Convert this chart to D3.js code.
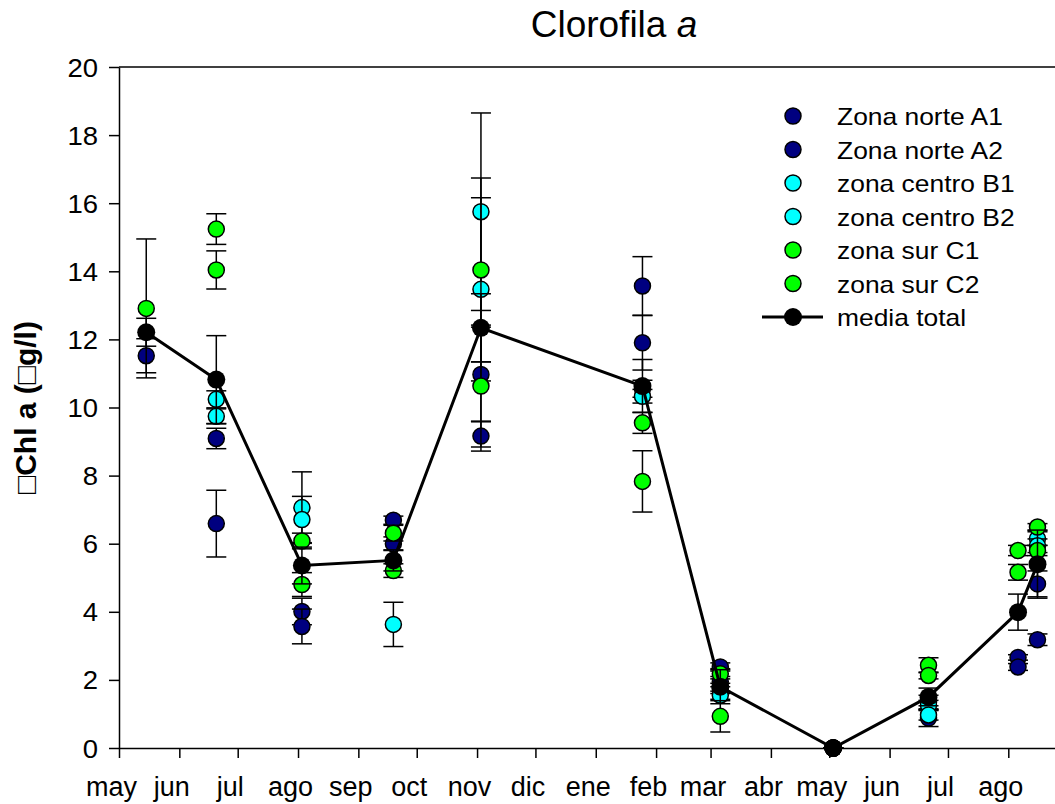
<!DOCTYPE html>
<html>
<head>
<meta charset="utf-8">
<script src="https://d3js.org/d3.v7.min.js"></script>
<style>
body, html {
    margin: 0;
    padding: 0;
    background: #fff;
    font-family: "Liberation Sans", Arial, sans-serif;
}
svg { display: block; }
.axis path, .axis line { stroke: #000; stroke-width: 1.5px; }
</style>
</head>
<body>
<div id="chart"></div>
<script>

// fechas de muestreo
var fechas = ["2006-05-15", "2006-06-20", "2006-08-03", "2006-09-19", "2006-11-03", "2007-01-25",
              "2007-03-06", "2007-05-03", "2007-06-21", "2007-08-06", "2007-08-16"];
var meses = ["ene", "feb", "mar", "abr", "may", "jun", "jul", "ago", "sep", "oct", "nov", "dic"];
var zonas = ["Zona norte A1", "Zona norte A2", "zona centro B1", "zona centro B2", "zona sur C1", "zona sur C2"];
var colores = ["#000080", "#000080", "#00ffff", "#00ffff", "#00ff00", "#00ff00"];
var yTicks = [0, 2, 4, 6, 8, 10, 12, 14, 16, 18, 20];

// Chl a por zona (null = sin dato) y su error
var A1 = [11.52, 9.09, 4.01, 6.69, 10.97, 13.57, 2.38, 0, 0.88, 2.66, 4.82];
var A1err = [0.5, 0.30, 0.39, 0.12, 1.39, 0.86, 0.12, 0, 0.25, 0.08, 0.38];
var A2 = [null, 6.59, 3.57, 6.0, 9.16, 11.90, 1.95, 0, 1.35, 2.38, 3.18];
var A2err = [0, 0.98, 0.51, 0.2, 0.44, 0.80, 0.15, 0, 0.2, 0.1, 0.17];
var B1 = [null, 10.24, 7.06, 3.63, 15.75, 10.55, 1.75, 0, 1.25, null, 6.15];
var B1err = [0, 0.25, 1.05, 0.65, 2.9, 0.25, 0.15, 0, 0.15, 0, 0.2];
var B2 = [null, 9.74, 6.71, null, 13.47, 10.33, 1.55, 0, 0.97, null, 5.94];
var B2err = [0, 0.22, 0.68, 0, 2.69, 0.2, 0.12, 0, 0.15, 0, 0.2];
var C1 = [12.91, 15.24, 6.08, 6.31, 14.04, 9.55, 2.18, 0, 2.43, 5.80, 6.49];
var C1err = [2.04, 0.45, 0.23, 0.23, 2.7, 0.31, 0.15, 0, 0.22, 0.15, 0.1];
var C2 = [null, 14.04, 4.80, 5.21, 10.63, 7.83, 0.93, 0, 2.13, 5.16, 5.80];
var C2err = [0, 0.56, 0.35, 0.2, 1.79, 0.9, 0.46, 0, 0.1, 0.23, 0.15];
var media = [12.21, 10.82, 5.36, 5.51, 12.34, 10.63, 1.80, 0, 1.50, 3.99, 5.40];
var mediaErr = [0.41, 1.29, 0.54, 0.31, 1.0, 0.78, 0.5, 0, 0.26, 0.53, 1.0];

var width = 1055, height = 804;
var mLeft = 119, mTop = 67, mBottom = 748, mRight = 1055;

var parse = d3.timeParse("%Y-%m-%d");
var dias = fechas.map(parse);

var x = d3.scaleTime()
    .domain([new Date(2006, 4, 1), new Date(2007, 7, 25)])
    .range([mLeft, mRight]);
var y = d3.scaleLinear()
    .domain([0, 20])
    .range([mBottom, mTop]);

var svg = d3.select("#chart").append("svg")
    .attr("width", width)
    .attr("height", height);

// estira el texto a lo ancho
function estirar(sel, k) {
  sel.each(function() {
    var w = this.getComputedTextLength();
    d3.select(this).attr("textLength", w * k).attr("lengthAdjust", "spacingAndGlyphs");
  });
}

// ejes
var gx = svg.append("g")
    .attr("class", "axis")
    .attr("transform", "translate(0," + mBottom + ")")
    .call(d3.axisBottom(x)
      .ticks(d3.timeMonth.every(1))
      .tickSize(10)
      .tickSizeOuter(0)
      .tickFormat(function(d) { return meses[d.getMonth()]; }));
gx.selectAll("text")
    .attr("y", 48).attr("dy", null).attr("dx", -8)
    .style("font-size", "27px")
    .style("font-family", "Liberation Sans, Arial, sans-serif")
    .attr("fill", "#000");

var gy = svg.append("g")
    .attr("class", "axis")
    .attr("transform", "translate(" + mLeft + ",0)")
    .call(d3.axisLeft(y).tickValues(yTicks).tickSize(10).tickSizeOuter(0));
gy.selectAll("text")
    .attr("x", -21).attr("dy", "0.36em")
    .style("font-size", "25px")
    .style("font-family", "Liberation Sans, Arial, sans-serif")
    .attr("fill", "#000");
estirar(gy.selectAll("text"), 1.1);

// borde superior
svg.append("line")
    .attr("x1", mLeft).attr("x2", mRight)
    .attr("y1", mTop).attr("y2", mTop)
    .attr("stroke", "#000").attr("stroke-width", 1.5);

// titulo
var tit = svg.append("text")
    .attr("x", 614).attr("y", 37)
    .attr("text-anchor", "middle")
    .style("font-size", "37px");
tit.append("tspan").text("Clorofila ");
tit.append("tspan").style("font-style", "italic").text("a");

// titulo eje y
svg.append("text")
    .attr("transform", "translate(36," + y(10) + ") rotate(-90)")
    .attr("text-anchor", "middle")
    .style("font-size", "30px")
    .style("font-weight", "bold")
    .text("\u25A1Chl a (\u25A1g/l)");

// series
var series = [
  {vals: A1, err: A1err}, {vals: A2, err: A2err},
  {vals: B1, err: B1err}, {vals: B2, err: B2err},
  {vals: C1, err: C1err}, {vals: C2, err: C2err}
];

function barras(g, vals, err) {
  var pts = vals.map(function(v, i) { return {d: dias[i], v: v, e: err[i]}; })
      .filter(function(p) { return p.v !== null; });
  var b = g.selectAll(".bar").data(pts).enter().append("g");
  b.append("line")
      .attr("x1", function(p) { return x(p.d); }).attr("x2", function(p) { return x(p.d); })
      .attr("y1", function(p) { return y(p.v - p.e); }).attr("y2", function(p) { return y(p.v + p.e); });
  b.append("line")
      .attr("x1", function(p) { return x(p.d) - 10; }).attr("x2", function(p) { return x(p.d) + 10; })
      .attr("y1", function(p) { return y(p.v + p.e); }).attr("y2", function(p) { return y(p.v + p.e); });
  b.append("line")
      .attr("x1", function(p) { return x(p.d) - 10; }).attr("x2", function(p) { return x(p.d) + 10; })
      .attr("y1", function(p) { return y(p.v - p.e); }).attr("y2", function(p) { return y(p.v - p.e); });
  b.selectAll("line").attr("stroke", "#000").attr("stroke-width", 1.5);
  return pts;
}

series.forEach(function(s, k) {
  var g = svg.append("g");
  var pts = barras(g, s.vals, s.err);
  g.selectAll("circle").data(pts).enter().append("circle")
      .attr("cx", function(p) { return x(p.d); })
      .attr("cy", function(p) { return y(p.v); })
      .attr("r", 8)
      .attr("fill", colores[k])
      .attr("stroke", "#000")
      .attr("stroke-width", 1.5);
});

// media total
var gm = svg.append("g");
var ptsM = barras(gm, media, mediaErr);
gm.append("path")
    .datum(ptsM)
    .attr("fill", "none")
    .attr("stroke", "#000")
    .attr("stroke-width", 3)
    .attr("d", d3.line().x(function(p) { return x(p.d); }).y(function(p) { return y(p.v); }));
gm.selectAll("circle").data(ptsM).enter().append("circle")
    .attr("cx", function(p) { return x(p.d); })
    .attr("cy", function(p) { return y(p.v); })
    .attr("r", 9)
    .attr("fill", "#000");

// leyenda
var leg = svg.append("g").attr("transform", "translate(793,116)");
var paso = 33.5;
zonas.forEach(function(z, k) {
  leg.append("circle")
      .attr("cx", 0).attr("cy", k * paso).attr("r", 8)
      .attr("fill", colores[k]).attr("stroke", "#000").attr("stroke-width", 1.5);
  var t = leg.append("text")
      .attr("x", 44).attr("y", k * paso + 9)
      .style("font-size", "24px")
      .text(z);
  estirar(t, 1.1);
});
leg.append("line")
    .attr("x1", -31).attr("x2", 30)
    .attr("y1", 6 * paso).attr("y2", 6 * paso)
    .attr("stroke", "#000").attr("stroke-width", 3);
leg.append("circle")
    .attr("cx", 0).attr("cy", 6 * paso).attr("r", 9).attr("fill", "#000");
var tm = leg.append("text")
    .attr("x", 44).attr("y", 6 * paso + 9)
    .style("font-size", "24px")
    .text("media total");
estirar(tm, 1.1);

</script>
</body>
</html>
